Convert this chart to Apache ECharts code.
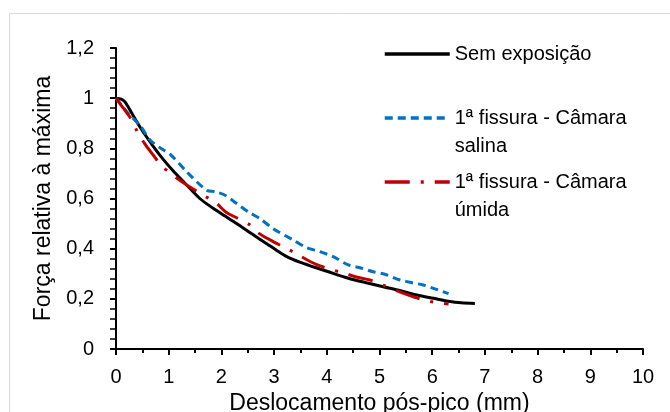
<!DOCTYPE html>
<html>
<head>
<meta charset="utf-8">
<script src="https://cdn.jsdelivr.net/npm/echarts@6/dist/echarts.min.js"></script>
<style>html,body{margin:0;padding:0;background:#fff}#c{width:670px;height:412px}</style>
</head>
<body>
<div id="c"></div>
<script>
const seriesNames = ["Sem exposição", "1ª fissura - Câmara salina", "1ª fissura - Câmara úmida"];
const legendLabels = ["Sem exposição", " \n1ª fissura - Câmara\nsalina", " \n1ª fissura - Câmara\númida"];
const xTitle = "Deslocamento pós-pico (mm)";
const yTitle = "Força relativa à máxima";

const blackX = [0, 0.1, 0.17, 0.3, 0.47, 0.71, 0.9, 1.07, 1.3, 1.59, 1.85, 2.07, 2.29, 2.57, 2.86, 3.05, 3.24, 3.5, 3.74, 4.0, 4.41, 4.75, 5.07, 5.4, 5.71, 6.02, 6.34, 6.55, 6.81];
const blackY = [1.0, 0.996, 0.985, 0.94, 0.88, 0.807, 0.755, 0.714, 0.663, 0.60, 0.56, 0.53, 0.50, 0.46, 0.42, 0.393, 0.368, 0.345, 0.328, 0.31, 0.282, 0.264, 0.248, 0.232, 0.215, 0.202, 0.189, 0.184, 0.181];

const blueX = [0, 0.23, 0.47, 0.645, 0.85, 1.04, 1.34, 1.72, 1.88, 2.07, 2.29, 2.51, 2.73, 2.98, 3.36, 3.62, 3.87, 4.12, 4.41, 4.61, 4.88, 5.1, 5.39, 5.6, 5.83, 6.05, 6.31];
const blueY = [1.0, 0.94, 0.887, 0.833, 0.8, 0.774, 0.707, 0.633, 0.627, 0.613, 0.58, 0.547, 0.52, 0.48, 0.435, 0.404, 0.388, 0.368, 0.335, 0.325, 0.308, 0.298, 0.275, 0.265, 0.255, 0.24, 0.221];

const redX = [0, 0.15, 0.30, 0.41, 0.55, 0.70, 0.85, 1.04, 1.25, 1.45, 1.69, 1.89, 2.09, 2.3, 2.53, 2.72, 2.95, 3.15, 3.38, 3.62, 3.86, 4.1, 4.35, 4.58, 4.82, 5.07, 5.32, 5.55, 5.80, 6.05, 6.31];
const redY = [1.0, 0.957, 0.913, 0.864, 0.817, 0.775, 0.733, 0.70, 0.667, 0.64, 0.609, 0.584, 0.545, 0.522, 0.496, 0.460, 0.432, 0.41, 0.385, 0.356, 0.332, 0.316, 0.301, 0.286, 0.275, 0.255, 0.233, 0.215, 0.198, 0.186, 0.179];

const yTickLabels = {0:"0", 0.2:"0,2", 0.4:"0,4", 0.6:"0,6", 0.8:"0,8", 1:"1", 1.2:"1,2"};

function pairs(xs, ys){ return xs.map((x,i)=>[x, ys[i]]); }

const FONT = "'Liberation Sans', Arial, sans-serif";
const chart = echarts.init(document.getElementById('c'), null, {renderer:'canvas'});

function mkLegend(i, top){
  return {
    show: true, orient: 'vertical', left: 383, top: top, padding: 0,
    itemWidth: 65, itemHeight: 14,
    itemStyle: {opacity: 0},
    lineStyle: {width: 3.5},
    data: [seriesNames[i]],
    formatter: () => legendLabels[i],
    textStyle: {fontFamily: FONT, fontSize: 20, color: '#000', lineHeight: 28},
    selectedMode: false
  };
}

chart.setOption({
  animation: false,
  backgroundColor: '#fff',
  textStyle: {fontFamily: FONT},
  graphic: [{
    type: 'rect', silent: true, z: -1,
    shape: {x: 9.5, y: 13.5, width: 700, height: 450},
    style: {fill: 'none', stroke: '#d9d9d9', lineWidth: 1}
  }],
  legend: [mkLegend(0, 40), mkLegend(1, 76), mkLegend(2, 140)],
  grid: {left: 116, right: 27, top: 48, bottom: 63, containLabel: false, outerBoundsMode: 'none'},
  xAxis: {
    type: 'value', min: 0, max: 10, interval: 1,
    name: xTitle, nameLocation: 'middle', nameGap: 40,
    nameTextStyle: {fontFamily: FONT, fontSize: 23, color: '#000'},
    axisLine: {show: true, onZero: false, lineStyle: {color: '#000', width: 2}},
    axisTick: {show: true, length: 6, lineStyle: {color: '#000', width: 2}},
    minorTick: {show: true, splitNumber: 2, length: 4, lineStyle: {color: '#000', width: 2}},
    splitLine: {show: false},
    axisLabel: {fontFamily: FONT, fontSize: 20, color: '#000', margin: 18}
  },
  yAxis: {
    type: 'value', min: 0, max: 1.2, interval: 0.2,
    name: yTitle, nameLocation: 'middle', nameGap: 55,
    nameTextStyle: {fontFamily: FONT, fontSize: 23, color: '#000'},
    axisLine: {show: true, onZero: false, lineStyle: {color: '#000', width: 2}},
    axisTick: {show: true, length: 6, lineStyle: {color: '#000', width: 2}},
    minorTick: {show: true, splitNumber: 5, length: 6, lineStyle: {color: '#000', width: 1.5}},
    splitLine: {show: false},
    axisLabel: {fontFamily: FONT, fontSize: 20, color: '#000', margin: 22,
      formatter: v => { const k = Math.round(v*10)/10; return yTickLabels[k] !== undefined ? yTickLabels[k] : String(v).replace('.', ','); }}
  },
  series: [
    {name: seriesNames[0], type: 'line', data: pairs(blackX, blackY), smooth: 0.3, symbol: 'none',
     lineStyle: {color: '#000', width: 3}, itemStyle: {color: '#000'}},
    {name: seriesNames[1], type: 'line', data: pairs(blueX, blueY), smooth: 0.3, symbol: 'none',
     lineStyle: {color: '#0070C0', width: 3, type: [8, 5]}, itemStyle: {color: '#0070C0'}},
    {name: seriesNames[2], type: 'line', data: pairs(redX, redY), smooth: 0.3, symbol: 'none',
     lineStyle: {color: '#C00000', width: 3, type: [25, 11, 3, 11]}, itemStyle: {color: '#C00000'}}
  ]
});
</script>
</body>
</html>
